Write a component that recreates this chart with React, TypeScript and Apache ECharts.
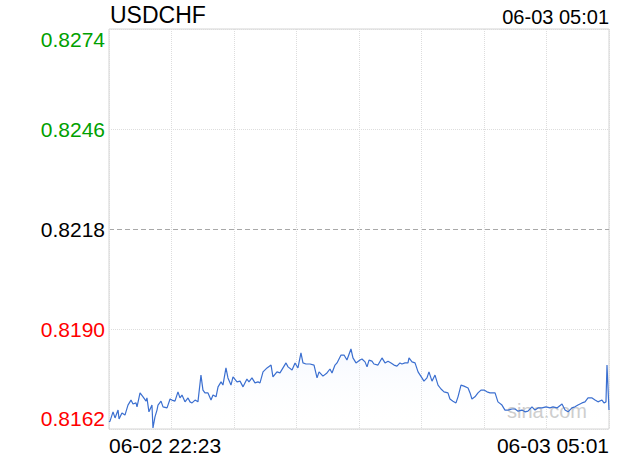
import React, { useEffect, useRef } from "react";
import * as echarts from "echarts";

const symbolName = "USDCHF";
const startLabel = "06-02 22:23";
const endLabel = "06-03 05:01";
const totalMinutes = 398;
const prevClose = 0.8218;
const yMin = 0.8162;
const yMax = 0.8274;
const yStep = 0.0028;

// minutes elapsed since 06-02 22:23
const minutes = [
  0, 0.8, 3.2, 4.8, 7.2, 8.0, 10.3, 12.7, 15.1, 17.5, 19.1, 21.5, 22.3, 24.7, 27.1, 29.5, 30.2, 31.8, 34.2, 35.0,
  36.6, 38.2, 39.0, 41.4, 43.0, 46.2, 48.6, 50.1, 52.5, 54.9, 56.5, 58.1, 60.5, 62.9, 64.5, 66.1, 68.5, 70.8, 73.2, 74.8,
  76.4, 78.8, 81.2, 82.8, 85.2, 86.8, 89.2, 90.7, 93.1, 94.7, 97.1, 98.7, 101.9, 104.3, 106.7, 109.8, 111.4, 113.8, 116.2, 118.6,
  120.2, 122.6, 125.8, 129.0, 130.5, 133.7, 136.1, 138.5, 140.9, 142.5, 145.7, 148.1, 150.4, 152.8, 154.4, 156.8, 160.0, 163.2, 165.6, 167.2,
  170.3, 173.5, 175.9, 177.5, 179.9, 181.5, 184.7, 187.1, 189.4, 192.6, 194.2, 196.6, 199.8, 201.4, 203.8, 205.4, 207.0, 209.3, 210.9, 214.1,
  217.3, 219.7, 222.1, 224.5, 226.9, 229.2, 231.6, 233.2, 235.6, 238.0, 238.8, 241.2, 243.6, 246.0, 249.1, 250.7, 253.1, 254.7, 257.1, 259.5,
  261.9, 264.3, 266.7, 269.8, 271.4, 273.8, 276.2, 277.8, 280.2, 282.6, 285.8, 287.4, 288.9, 291.3, 293.7, 296.1, 298.5, 300.9, 303.3, 307.3,
  309.6, 312.8, 315.2, 317.6, 320.8, 323.2, 325.6, 328.7, 331.1, 333.5, 336.7, 339.1, 341.5, 344.7, 347.9, 351.0, 353.4, 356.6, 360.6, 363.0,
  365.4, 368.5, 370.9, 373.3, 376.5, 378.9, 381.3, 384.5, 386.9, 389.2, 392.4, 394.0, 395.6, 396.4, 398.0,
];

const prices = [
  0.8164, 0.81642, 0.81668, 0.81651, 0.81673, 0.81648, 0.81665, 0.81659, 0.81687, 0.81701, 0.8169, 0.81693, 0.81682, 0.81721, 0.8171, 0.81698, 0.81707, 0.81668, 0.81687, 0.81623,
  0.81654, 0.81673, 0.81687, 0.81698, 0.81682, 0.81679, 0.81704, 0.81701, 0.81698, 0.81724, 0.81707, 0.81715, 0.81696, 0.81707, 0.81696, 0.81693, 0.81701, 0.81696, 0.81771, 0.81729,
  0.81721, 0.81721, 0.81701, 0.81715, 0.8171, 0.81738, 0.81752, 0.81743, 0.81791, 0.81763, 0.81743, 0.81766, 0.81752, 0.81754, 0.81738, 0.8176, 0.81752, 0.81763, 0.81749, 0.81752,
  0.81749, 0.8178, 0.81791, 0.81799, 0.81766, 0.8178, 0.81777, 0.81791, 0.81805, 0.81794, 0.81785, 0.81805, 0.81791, 0.81833, 0.81805, 0.81802, 0.81802, 0.81799, 0.81763, 0.8178,
  0.81768, 0.81777, 0.81788, 0.81777, 0.81799, 0.81805, 0.81827, 0.81827, 0.81813, 0.81844, 0.81819, 0.81805, 0.81813, 0.81816, 0.81808, 0.81794, 0.81813, 0.8181, 0.81802, 0.81799,
  0.81819, 0.81805, 0.8181, 0.81805, 0.81799, 0.81796, 0.81805, 0.81802, 0.81805, 0.81805, 0.81819, 0.81808, 0.81805, 0.8178, 0.81763, 0.81754, 0.81763, 0.8178, 0.81754, 0.81771,
  0.81743, 0.81732, 0.81724, 0.81721, 0.81704, 0.81698, 0.81693, 0.8171, 0.81743, 0.8174, 0.81735, 0.81721, 0.81704, 0.8171, 0.81721, 0.81729, 0.81729, 0.81724, 0.81721, 0.81721,
  0.81696, 0.81687, 0.81673, 0.81673, 0.81676, 0.81676, 0.8167, 0.81673, 0.81668, 0.8167, 0.81682, 0.81673, 0.81679, 0.81679, 0.81682, 0.81679, 0.81682, 0.81679, 0.8169, 0.81673,
  0.81668, 0.81679, 0.81682, 0.81687, 0.81693, 0.81696, 0.81707, 0.81707, 0.81701, 0.81696, 0.81701, 0.81693, 0.81696, 0.81799, 0.81673,
];

const FONT = "'Liberation Sans', Arial, Helvetica, sans-serif";

export default function App() {
  const ref = useRef<HTMLDivElement>(null);

  useEffect(() => {
    if (!ref.current) return;
    const chart = echarts.init(ref.current, null, { renderer: "svg" });
    const seriesData = minutes.map((m, i) => [m, prices[i]]);

    chart.setOption({
      animation: false,
      backgroundColor: "#ffffff",
      title: [
        {
          text: symbolName,
          left: 110,
          top: 3,
          padding: 0,
          textStyle: { fontFamily: FONT, fontSize: 23, fontWeight: "normal", color: "#000" },
        },
        {
          text: endLabel,
          right: 11,
          top: 7,
          padding: 0,
          textStyle: { fontFamily: FONT, fontSize: 20, fontWeight: "normal", color: "#000" },
        },
      ],
      graphic: [
        {
          type: "text",
          left: 507,
          top: 401,
          z: 0,
          style: { text: "sina.com", fontFamily: FONT, fontSize: 20, fill: "#cccccc" },
        },
      ],
      grid: {
        left: 109,
        right: 11,
        top: 29,
        bottom: 31,
        show: true,
        borderColor: "#d4d4d4",
        borderWidth: 1,
        backgroundColor: "transparent",
      },
      xAxis: {
        type: "value",
        min: 0,
        max: totalMinutes,
        interval: totalMinutes / 8,
        axisLine: { show: false },
        axisTick: { show: false },
        splitLine: { show: true, lineStyle: { color: "#dddddd", type: "dotted", width: 1 } },
        axisLabel: {
          show: true,
          margin: 6,
          fontFamily: FONT,
          fontSize: 21,
          color: "#000",
          showMinLabel: true,
          showMaxLabel: true,
          alignMinLabel: "left",
          alignMaxLabel: "right",
          formatter: (v: number) => {
            if (Math.abs(v) < 1e-6) return startLabel;
            if (Math.abs(v - totalMinutes) < 1e-6) return endLabel;
            return "";
          },
        },
      },
      yAxis: [
        {
          type: "value",
          min: yMin,
          max: yMax,
          interval: yStep,
          axisLine: { show: false },
          axisTick: { show: false },
          splitLine: {
            show: true,
            lineStyle: { color: ["#dddddd", "#dddddd", "transparent", "#dddddd", "#dddddd"], type: "dotted", width: 1 },
          },
          axisLabel: {
            margin: 4,
            fontFamily: FONT,
            fontSize: 21,
            showMinLabel: true,
            showMaxLabel: true,
            verticalAlignMinLabel: "bottom",
            verticalAlignMaxLabel: "top",
            formatter: (v: number) => Number(v).toFixed(4),
            color: (v: any) => {
              const n = Number(v);
              if (n > prevClose + 1e-7) return "#00a000";
              if (n < prevClose - 1e-7) return "#ff0000";
              return "#000000";
            },
          },
        },
        {
          type: "value",
          position: "left",
          min: yMin,
          max: yMax,
          interval: prevClose - yMin,
          axisLine: { show: false },
          axisTick: { show: false },
          axisLabel: { show: false },
          splitLine: {
            show: true,
            lineStyle: { color: ["transparent", "#a8a8a8", "transparent"], type: [5, 3], width: 1 },
          },
        },
      ],
      series: [
        {
          type: "line",
          yAxisIndex: 0,
          data: seriesData,
          showSymbol: false,
          symbol: "none",
          z: 3,
          lineStyle: { color: "#3b6fd0", width: 1.2 },
          areaStyle: {
            color: new echarts.graphic.LinearGradient(0, 0, 0, 1, [
              { offset: 0, color: "rgba(215,228,255,0.35)" },
              { offset: 1, color: "rgba(255,255,255,0)" },
            ]),
          },
        },
      ],
    });

    return () => chart.dispose();
  }, []);

  return <div ref={ref} style={{ width: 620, height: 460, position: "absolute", left: 0, top: 0 }} />;
}
